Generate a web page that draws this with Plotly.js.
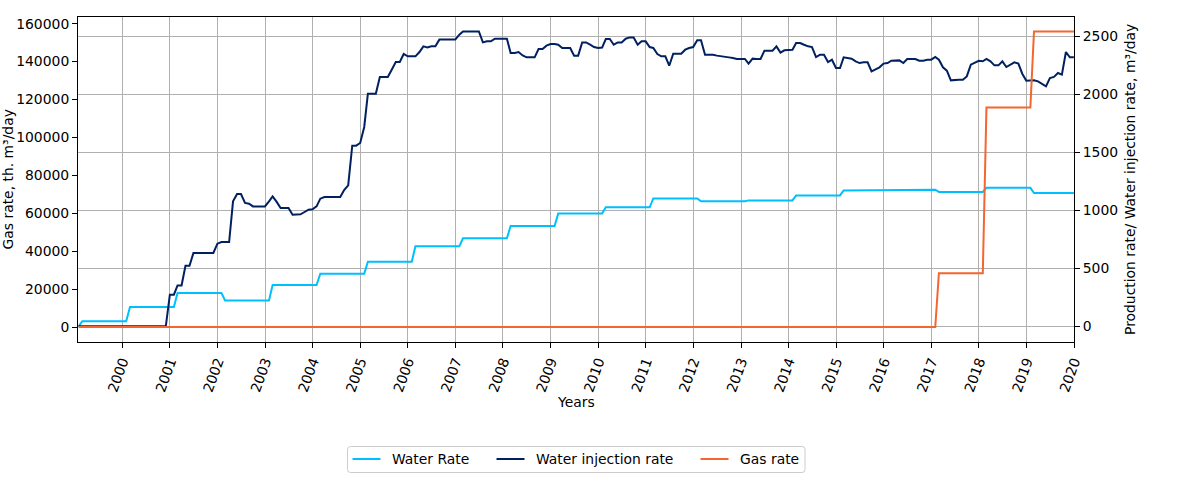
<!DOCTYPE html>
<html>
<head>
<meta charset="utf-8">
<script src="https://cdn.plot.ly/plotly-3.0.1.min.js"></script>
<style>
  html, body { margin: 0; padding: 0; background: #ffffff; }
  #chart { width: 1185px; height: 485px; }
</style>
</head>
<body>
<div id="chart"></div>
<script>
// Monthly records, one row per year (Jan..Dec), 1999-2019
var years = [1999, 2000, 2001, 2002, 2003, 2004, 2005, 2006, 2007, 2008, 2009,
             2010, 2011, 2012, 2013, 2014, 2015, 2016, 2017, 2018, 2019];

// Water production rate, m³/day
var waterRate = [
  0, 45, 45, 45, 45, 45, 45, 45, 45, 45, 45, 45,
  45, 167, 167, 167, 167, 167, 167, 167, 167, 167, 167, 167,
  167, 288, 288, 288, 288, 288, 288, 288, 288, 288, 288, 288,
  288, 224, 224, 224, 224, 224, 224, 224, 224, 224, 224, 224,
  224, 357, 357, 357, 357, 357, 357, 357, 357, 357, 357, 357,
  357, 454, 454, 454, 454, 454, 454, 454, 454, 454, 454, 454,
  454, 558, 558, 558, 558, 558, 558, 558, 558, 558, 558, 558,
  558, 690, 690, 690, 690, 690, 690, 690, 690, 690, 690, 690,
  690, 759, 759, 759, 759, 759, 759, 759, 759, 759, 759, 759,
  759, 865, 865, 865, 865, 865, 865, 865, 865, 865, 865, 865,
  865, 972, 972, 972, 972, 972, 972, 972, 972, 972, 972, 972,
  972, 1026, 1026, 1026, 1026, 1026, 1026, 1026, 1026, 1026, 1026, 1026,
  1026, 1103, 1103, 1103, 1103, 1103, 1103, 1103, 1103, 1103, 1103, 1103,
  1103, 1078, 1078, 1078, 1078, 1078, 1078, 1078, 1078, 1078, 1078, 1078,
  1078, 1086, 1086, 1086, 1086, 1086, 1086, 1086, 1086, 1086, 1086, 1086,
  1086, 1129, 1129, 1129, 1129, 1129, 1129, 1129, 1129, 1129, 1129, 1129,
  1129, 1172, 1172, 1172, 1172, 1172, 1172, 1172, 1172, 1172, 1172, 1172,
  1172, 1178, 1178, 1178, 1178, 1178, 1178, 1178, 1178, 1178, 1178, 1178,
  1178, 1159, 1159, 1159, 1159, 1159, 1159, 1159, 1159, 1159, 1159, 1159,
  1159, 1194, 1194, 1194, 1194, 1194, 1194, 1194, 1194, 1194, 1194, 1194,
  1194, 1149, 1149, 1149, 1149, 1149, 1149, 1149, 1149, 1149, 1149, 1149
];

// Water injection rate, m³/day
var injectionRate = [
  0, 0, 0, 0, 0, 0, 0, 0, 0, 0, 0, 0,
  0, 0, 0, 0, 0, 0, 0, 0, 0, 0, 0, 273,
  273, 353, 353, 523, 523, 633, 633, 633, 633, 633, 633, 713,
  727, 727, 727, 1078, 1141, 1141, 1064, 1058, 1034, 1034, 1034, 1034,
  1078, 1121, 1073, 1020, 1020, 1020, 963, 963, 966, 986, 1006, 1009,
  1034, 1101, 1115, 1115, 1115, 1115, 1115, 1178, 1216, 1558, 1558, 1581,
  1719, 2006, 2006, 2006, 2150, 2150, 2150, 2215, 2279, 2279, 2348, 2328,
  2328, 2328, 2365, 2414, 2405, 2414, 2414, 2472, 2472, 2472, 2472, 2472,
  2515, 2543, 2543, 2543, 2543, 2543, 2448, 2457, 2457, 2480, 2480, 2480,
  2480, 2357, 2357, 2365, 2336, 2319, 2319, 2319, 2391, 2391, 2420, 2434,
  2434, 2428, 2400, 2400, 2400, 2334, 2334, 2448, 2448, 2428, 2408, 2400,
  2403, 2477, 2477, 2428, 2448, 2448, 2480, 2491, 2491, 2428, 2457, 2457,
  2408, 2400, 2348, 2328, 2328, 2247, 2351, 2351, 2351, 2385, 2400, 2408,
  2466, 2466, 2342, 2342, 2342, 2334, 2328, 2319, 2319, 2314, 2305, 2305,
  2305, 2265, 2308, 2305, 2305, 2377, 2377, 2377, 2414, 2360, 2380, 2380,
  2385, 2443, 2443, 2428, 2414, 2408, 2322, 2342, 2342, 2279, 2299, 2227,
  2227, 2319, 2313, 2308, 2284, 2270, 2276, 2276, 2198, 2213, 2233, 2265,
  2270, 2290, 2293, 2293, 2270, 2305, 2305, 2305, 2290, 2290, 2299, 2299,
  2322, 2299, 2233, 2204, 2121, 2126, 2126, 2126, 2155, 2256, 2270, 2290,
  2285, 2305, 2285, 2250, 2250, 2285, 2236, 2256, 2276, 2265, 2178, 2118,
  2118, 2121, 2112, 2092, 2069, 2141, 2150, 2184, 2170, 2365, 2319, 2319
];

// Gas rate, th. m³/day
var gasRate = [
  0, 0, 0, 0, 0, 0, 0, 0, 0, 0, 0, 0,
  0, 0, 0, 0, 0, 0, 0, 0, 0, 0, 0, 0,
  0, 0, 0, 0, 0, 0, 0, 0, 0, 0, 0, 0,
  0, 0, 0, 0, 0, 0, 0, 0, 0, 0, 0, 0,
  0, 0, 0, 0, 0, 0, 0, 0, 0, 0, 0, 0,
  0, 0, 0, 0, 0, 0, 0, 0, 0, 0, 0, 0,
  0, 0, 0, 0, 0, 0, 0, 0, 0, 0, 0, 0,
  0, 0, 0, 0, 0, 0, 0, 0, 0, 0, 0, 0,
  0, 0, 0, 0, 0, 0, 0, 0, 0, 0, 0, 0,
  0, 0, 0, 0, 0, 0, 0, 0, 0, 0, 0, 0,
  0, 0, 0, 0, 0, 0, 0, 0, 0, 0, 0, 0,
  0, 0, 0, 0, 0, 0, 0, 0, 0, 0, 0, 0,
  0, 0, 0, 0, 0, 0, 0, 0, 0, 0, 0, 0,
  0, 0, 0, 0, 0, 0, 0, 0, 0, 0, 0, 0,
  0, 0, 0, 0, 0, 0, 0, 0, 0, 0, 0, 0,
  0, 0, 0, 0, 0, 0, 0, 0, 0, 0, 0, 0,
  0, 0, 0, 0, 0, 0, 0, 0, 0, 0, 0, 0,
  0, 0, 0, 0, 0, 0, 0, 0, 0, 0, 0, 0,
  0, 28300, 28300, 28300, 28300, 28300, 28300, 28300, 28300, 28300, 28300, 28300,
  28300, 115800, 115800, 115800, 115800, 115800, 115800, 115800, 115800, 115800, 115800, 115800,
  115800, 155900, 155900, 155900, 155900, 155900, 155900, 155900, 155900, 155900, 155900, 155900
];

// Month-end date for every record
var dates = [];
years.forEach(function (y) {
  for (var m = 1; m <= 12; m++) {
    dates.push(new Date(Date.UTC(y, m, 0)).toISOString().slice(0, 10));
  }
});

var FONT = 'DejaVu Sans, sans-serif';
var FS = 13.9;
var GRID = '#b0b0b0';

var W = 1185, H = 485;
var M = { l: 78, r: 111, t: 17, b: 143 };
var PW = W - M.l - M.r, PH = H - M.t - M.b;
// pixel -> paper coordinates (for the legend panel and titles)
function px(x) { return (x - M.l) / PW; }
function py(y) { return (H - M.b - y) / PH; }

var series = [
  { name: 'Water Rate', y: waterRate, axis: 'y', color: '#00bfff' },
  { name: 'Water injection rate', y: injectionRate, axis: 'y', color: '#002060' },
  { name: 'Gas rate', y: gasRate, axis: 'y2', color: '#f4662f' }
];

var traces = series.map(function (s) {
  return {
    name: s.name, x: dates, y: s.y, yaxis: s.axis,
    type: 'scatter', mode: 'lines',
    line: { color: s.color, width: 2 },
    showlegend: false
  };
});

// Legend panel below the axes: handle start x for each entry, in px
var legendBox = { x0: 347.5, x1: 805, y0: 446.5, y1: 472.5, r: 3 };
var legendHandleX = [352.5, 496.5, 700.5];
var handleLen = 28, handleGap = 10, legendMidY = 459;

var shapes = [];
var annotations = [];

// rounded frame
(function () {
  var b = legendBox, rx = b.r / PW, ry = b.r / PH;
  var L = px(b.x0), R = px(b.x1), T = py(b.y0), B = py(b.y1);
  shapes.push({
    type: 'path', xref: 'paper', yref: 'paper',
    path: 'M' + (L + rx) + ',' + T + ' L' + (R - rx) + ',' + T +
          ' Q' + R + ',' + T + ' ' + R + ',' + (T - ry) +
          ' L' + R + ',' + (B + ry) + ' Q' + R + ',' + B + ' ' + (R - rx) + ',' + B +
          ' L' + (L + rx) + ',' + B + ' Q' + L + ',' + B + ' ' + L + ',' + (B + ry) +
          ' L' + L + ',' + (T - ry) + ' Q' + L + ',' + T + ' ' + (L + rx) + ',' + T + ' Z',
    line: { color: '#cccccc', width: 1 }, fillcolor: '#ffffff', layer: 'above'
  });
})();

series.forEach(function (s, i) {
  var x0 = legendHandleX[i];
  shapes.push({
    type: 'line', xref: 'paper', yref: 'paper',
    x0: px(x0), x1: px(x0 + handleLen), y0: py(legendMidY), y1: py(legendMidY),
    line: { color: s.color, width: 2 }, layer: 'above'
  });
  annotations.push({
    text: s.name, xref: 'paper', yref: 'paper',
    x: px(x0 + handleLen + handleGap - 1), y: py(legendMidY),
    xanchor: 'left', yanchor: 'middle', showarrow: false,
    font: { family: FONT, size: FS, color: '#000000' }
  });
});

annotations.push(
  {
    text: 'Years', xref: 'paper', yref: 'paper',
    x: px(576), y: py(402), xanchor: 'center', yanchor: 'middle',
    showarrow: false, font: { family: FONT, size: FS, color: '#000000' }
  },
  {
    text: 'Gas rate, th. m³/day', xref: 'paper', yref: 'paper',
    x: px(7.5), y: py(180), xanchor: 'center', yanchor: 'middle', textangle: -90,
    showarrow: false, font: { family: FONT, size: FS, color: '#000000' }
  },
  {
    text: 'Production rate/ Water injection rate, m³/day', xref: 'paper', yref: 'paper',
    x: px(1130), y: py(180), xanchor: 'center', yanchor: 'middle', textangle: -90,
    showarrow: false, font: { family: FONT, size: FS, color: '#000000' }
  }
);

var layout = {
  width: W, height: H,
  margin: { l: M.l, r: M.r, t: M.t, b: M.b, autoexpand: false },
  paper_bgcolor: '#ffffff', plot_bgcolor: '#ffffff',
  font: { family: FONT, size: FS, color: '#000000' },
  showlegend: false,
  xaxis: {
    type: 'date',
    range: ['1999-01-26', '2020-01-01'],
    tick0: '2000-01-01', dtick: 'M12', tickformat: '%Y',
    tickangle: -70,
    ticks: 'outside', ticklen: 5, tickcolor: '#000000',
    showline: true, linecolor: '#000000', linewidth: 1, mirror: true,
    showgrid: true, gridcolor: GRID, gridwidth: 1,
    zeroline: false, automargin: false,
    tickfont: { family: FONT, size: FS, color: '#000000' }
  },
  // right-hand axis: production / injection rates
  yaxis: {
    side: 'right',
    range: [-134.7, 2667],
    tick0: 0, dtick: 500,
    ticks: 'outside', ticklen: 5, tickcolor: '#000000',
    showline: true, linecolor: '#000000', linewidth: 1,
    showgrid: true, gridcolor: GRID, gridwidth: 1,
    zeroline: false, automargin: false,
    tickformat: 'd',
    tickfont: { family: FONT, size: FS, color: '#000000' }
  },
  // left-hand axis: gas rate
  yaxis2: {
    side: 'left', overlaying: 'y',
    range: [-7913, 163540],
    tick0: 0, dtick: 20000,
    ticks: 'outside', ticklen: 5, tickcolor: '#000000',
    showline: true, linecolor: '#000000', linewidth: 1,
    showgrid: false, zeroline: false, automargin: false,
    tickformat: 'd',
    tickfont: { family: FONT, size: FS, color: '#000000' }
  },
  shapes: shapes,
  annotations: annotations
};

Plotly.newPlot('chart', traces, layout, { staticPlot: true, displayModeBar: false });
</script>
</body>
</html>
